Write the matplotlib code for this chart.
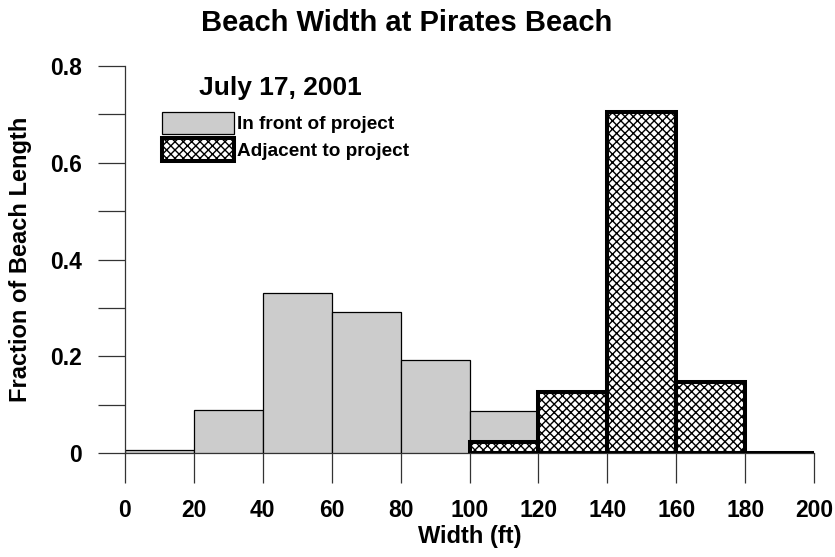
import numpy as np
import matplotlib.pyplot as plt
from matplotlib.ticker import MultipleLocator, FixedFormatter

# DATA #
bin_left = [0, 20, 40, 60, 80, 100, 120, 140, 160, 180]
front_frac = [0.006, 0.088, 0.331, 0.291, 0.192, 0.086, 0.0, 0.0, 0.0, 0.0]
adjacent_frac = [0.0, 0.0, 0.0, 0.0, 0.0, 0.022, 0.126, 0.704, 0.146, 0.0]
x_ticks = [0, 20, 40, 60, 80, 100, 120, 140, 160, 180, 200]
y_ticks = [0, 0.2, 0.4, 0.6, 0.8]
y_tick_labels = ['0', '0.2', '0.4', '0.6', '0.8']

plt.rcParams['font.family'] = ['Liberation Sans', 'DejaVu Sans']
plt.rcParams['font.weight'] = 'bold'
plt.rcParams['hatch.linewidth'] = 1.0

fig = plt.figure(figsize=(8.35, 5.57), dpi=100)
ax = fig.add_axes([0.1497, 0.1867, 0.8253, 0.6948])

# gray bars (in front of project), drawn only where non-zero
fl = [b for b, v in zip(bin_left, front_frac) if v > 0]
fv = [v for v in front_frac if v > 0]
h_front = ax.bar(fl, fv, width=20, align='edge', color='#cccccc',
                 edgecolor='black', linewidth=0.9, zorder=2)

# hatched bars (adjacent to project), from 100 onward
al = [b for b in bin_left if b >= 100]
av = [v for b, v in zip(bin_left, adjacent_frac) if b >= 100]
h_adj = ax.bar(al, av, width=20, align='edge', color='white',
               edgecolor='black', linewidth=2.9, hatch='xxxx', zorder=3)

ax.set_xlim(0, 200)
ax.set_ylim(0, 0.8)
ax.set_xticks(x_ticks)
ax.set_yticks(y_ticks)
ax.yaxis.set_major_formatter(FixedFormatter(y_tick_labels))
ax.yaxis.set_minor_locator(MultipleLocator(0.1))
ax.tick_params(axis='both', which='both', direction='out',
               width=0.9, color='#333333', labelsize=16.5, pad=11.5)
ax.tick_params(axis='x', length=21.5)
ax.tick_params(axis='y', which='both', length=19.5)

for s in ['top', 'right']:
    ax.spines[s].set_visible(False)
ax.spines['left'].set_linewidth(0.9)
ax.spines['bottom'].set_linewidth(0.9)
ax.spines['left'].set_color('#333333')
ax.spines['bottom'].set_color('#333333')
ax.spines['bottom'].set_zorder(1)

ax.set_xlabel('Width (ft)', fontsize=17, fontweight='bold', labelpad=2)
ax.set_ylabel('Fraction of Beach Length', fontsize=17, fontweight='bold', labelpad=13)
fig.suptitle('Beach Width at Pirates Beach', fontsize=21, fontweight='bold',
             x=0.487, y=0.984)

# date label above the legend
ax.text(0.225, 0.944, 'July 17, 2001', transform=ax.transAxes, fontsize=19,
        fontweight='bold', ha='center', va='center')

leg = ax.legend([h_front, h_adj], ['In front of project', 'Adjacent to project'],
                loc='upper left', bbox_to_anchor=(0.0537, 0.882), frameon=False,
                fontsize=13.7, handlelength=3.8, handleheight=1.45,
                handletextpad=0.15, labelspacing=0.2, borderpad=0,
                borderaxespad=0)

fig.savefig('out.png', dpi=100)
